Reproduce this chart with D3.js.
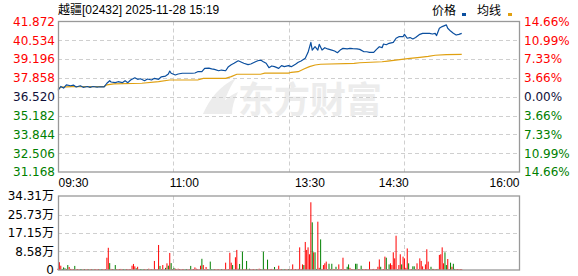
<!DOCTYPE html>
<html>
<head>
<meta charset="utf-8">
<script src="https://cdn.jsdelivr.net/npm/d3@7"></script>
<style>
  html, body { margin: 0; padding: 0; background: #fff; }
  svg { display: block; }
</style>
</head>
<body>
<div id="chart"></div>
<script>
// ---- data ----
const stockTitle = '越疆[02432] 2025-11-28 15:19';
const legendNames = ['价格', '均线'];
const prevClose = 36.52;

const priceTicks = [41.872, 40.534, 39.196, 37.858, 36.520, 35.182, 33.844, 32.506, 31.168];
const pctLabels = ['14.66%', '10.99%', '7.33%', '3.66%', '0.00%', '3.66%', '7.33%', '10.99%', '14.66%'];

const timeLabels = ['09:30', '11:00', '13:30', '14:30', '16:00'];
const timeMinutes = [0, 90, 180, 240, 330];
const gridMinutes = [82.5, 165, 247.5];

const volTicks = [34.31, 25.73, 17.15, 8.58, 0];
const volLabels = ['34.31万', '25.73万', '17.15万', '8.58万', '0'];

// minutes since 09:30 (lunch break removed)
const priceMinutes = [0, 2, 4, 6, 9, 11, 13, 16, 18, 21, 23, 25, 28, 30, 33, 35, 37, 38, 41, 43,
    46, 48, 50, 52, 55, 57, 59, 62, 64, 67, 69, 72, 74, 77, 79, 80, 81, 84, 86, 89,
    92, 96, 98, 100, 103, 105, 108, 110, 112, 115, 117, 120, 122, 124, 126, 129, 131, 133, 136, 138,
    141, 143, 145, 147, 149, 151, 153, 155, 158, 160, 162, 165, 167, 170, 172, 174, 177, 179, 181, 182,
    184, 186, 187, 189, 191, 193, 196, 198, 200, 202, 204, 207, 209, 211, 214, 216, 219, 221, 223, 226,
    228, 230, 232, 233, 235, 237, 240, 242, 244, 247, 248, 250, 252, 254, 256, 259, 261, 263, 266, 268,
    270, 271, 273, 275, 278, 279, 281, 283, 285, 287, 289];
const prices = [36.97, 37.25, 37.14, 37.37, 37.30, 37.35, 37.21, 37.30, 37.19, 37.25, 37.19, 37.25, 37.21, 37.23, 37.22, 37.48, 37.66, 37.57, 37.52, 37.59,
    37.52, 37.66, 37.52, 37.71, 37.87, 37.76, 37.80, 37.66, 37.78, 37.71, 37.83, 37.76, 37.94, 37.99, 38.14, 38.35, 38.19, 38.07, 38.14, 38.19,
    38.19, 38.19, 38.21, 38.30, 38.30, 38.54, 38.56, 38.50, 38.47, 38.37, 38.42, 38.37, 38.66, 38.80, 38.90, 39.08, 38.99, 38.90, 38.80, 38.85,
    38.99, 39.08, 39.13, 39.01, 38.90, 38.59, 38.71, 38.66, 38.54, 38.73, 38.66, 38.73, 38.66, 38.83, 38.97, 39.06, 39.25, 39.68, 40.39, 39.84,
    40.08, 39.84, 40.25, 39.84, 40.01, 39.92, 39.84, 39.77, 39.65, 39.84, 39.96, 39.92, 39.96, 39.94, 39.92, 39.89, 39.72, 39.72, 39.68, 39.68,
    39.89, 40.08, 40.01, 40.27, 40.22, 40.32, 40.39, 40.68, 40.79, 40.79, 40.96, 40.68, 40.73, 40.63, 40.73, 40.96, 41.03, 41.03, 41.03, 40.98,
    41.03, 40.87, 41.39, 41.51, 41.63, 41.39, 41.19, 41.03, 40.91, 40.96, 41.03];

const avgMinutes = [0, 2, 10, 33, 35, 40, 60, 72, 80, 100, 104, 120, 124, 128, 145, 148, 165, 167, 172, 176,
    180, 184, 188, 212, 216, 232, 236, 246, 252, 259, 265, 270, 278, 289];
const avgPrices = [37.05, 37.20, 37.24, 37.24, 37.37, 37.43, 37.48, 37.59, 37.71, 37.71, 37.83, 37.83, 37.95, 38.12, 38.12, 38.20, 38.20, 38.26, 38.30, 38.49,
    38.66, 38.78, 38.83, 38.90, 38.94, 39.01, 39.06, 39.18, 39.25, 39.32, 39.39, 39.47, 39.51, 39.54];

// volume per minute (万), one entry per minute from 09:30
const volumes = [
    0.6, 3.6, 2.0, 0.5, 1.2, 0.8, 0.5, 2.3, 1.4, 0.5,
    0.5, 0.4, 1.9, 0.4, 0.4, 0.4, 0.4, 0.4, 0.4, 0.4,
    0.4, 0.4, 0.4, 0.4, 0.4, 0.4, 0.4, 0.4, 0.4, 0.4,
    0.4, 0.4, 0.4, 0.4, 0.4, 5.7, 10.3, 3.2, 0.5, 0.4,
    0.4, 2.3, 0.4, 0.4, 0.4, 0.5, 0.4, 0.4, 0.4, 0.4,
    0.4, 0.4, 0.4, 2.0, 2.8, 1.7, 0.8, 1.5, 0.4, 0.4,
    0.4, 0.4, 0.4, 0.4, 0.4, 0.6, 0.4, 0.4, 0.4, 4.2,
    0.4, 0.4, 11.6, 1.9, 0.4, 2.3, 0.4, 1.0, 3.1, 2.0,
    7.9, 3.2, 0.4, 1.0, 0.6, 0.4, 0.6, 0.4, 0.4, 0.4,
    0.4, 0.4, 0.4, 0.4, 0.4, 1.9, 0.4, 0.4, 1.2, 0.6,
    0.4, 0.4, 2.0, 5.2, 2.3, 0.4, 1.4, 0.4, 0.4, 3.9,
    0.4, 0.4, 0.4, 0.4, 0.4, 0.4, 0.4, 0.4, 0.4, 0.4,
    3.4, 0.4, 0.4, 8.0, 3.4, 2.3, 0.4, 5.9, 9.3, 0.6,
    2.8, 0.4, 8.5, 0.4, 0.5, 4.2, 0.4, 0.6, 0.4, 0.4,
    0.4, 0.4, 0.4, 0.4, 0.6, 0.4, 0.4, 8.5, 0.5, 0.4,
    4.8, 0.4, 0.4, 0.5, 0.4, 1.4, 0.4, 0.4, 2.0, 0.4,
    0.4, 0.4, 0.4, 0.4, 0.4, 0.4, 0.4, 0.4, 2.6, 0.4,
    0.4, 0.4, 0.5, 10.5, 0.5, 2.6, 2.3, 13.0, 9.3, 10.5,
    7.3, 31.4, 22.1, 8.2, 8.2, 0.5, 22.4, 1.0, 14.2, 0.5,
    2.3, 3.1, 3.9, 0.4, 2.9, 0.5, 2.9, 0.5, 0.4, 1.5,
    0.4, 2.6, 0.4, 0.4, 5.7, 0.4, 0.4, 1.5, 2.6, 1.0,
    0.4, 0.4, 0.4, 2.9, 2.9, 0.4, 0.4, 2.0, 0.4, 0.4,
    0.4, 0.4, 0.4, 3.9, 0.4, 0.4, 0.5, 0.4, 0.4, 1.5,
    4.9, 1.5, 0.4, 0.4, 6.2, 5.7, 0.4, 2.6, 3.1, 2.3,
    8.2, 5.4, 15.9, 0.4, 2.3, 7.3, 2.6, 6.2, 5.4, 1.0,
    10.0, 3.1, 0.4, 0.4, 1.7, 1.7, 0.4, 3.1, 0.4, 5.4,
    4.2, 1.7, 0.4, 2.6, 9.6, 3.9, 0.4, 1.5, 0.5, 0.5,
    0.4, 0.4, 0.5, 7.0, 7.3, 10.5, 3.1, 8.2, 2.3, 5.1,
    0.4, 3.4, 1.5, 2.9, 0.5, 0.4, 0.4, 0.4, 0.4, 0.4
];
// r = up minute, g = down minute
const volSides = 'rrrgggrgrr' + 'rrgrrrggrg' + 'rrgrrgrrrr' + 'ggrrrrrgrr' + 'ggrrrrrggr' +
    'rrrrrrgrrg' + 'ggrrgrrrgr' + 'rrrgrrrgrg' + 'rgrgrrrrrr' + 'rggrrgrrrr' +
    'rrrgrrrrgg' + 'ggrrrrrgrr' + 'rrrrrgrrrr' + 'grgrrgrgrr' + 'rrgrrrggrr' +
    'grrrrgrrrr' + 'rggrrgrrrr' + 'rrrrrrgrrr' + 'rrgrggrrgr' + 'rrrrgrgrrg' +
    'rrrrrrrggr' + 'rrrggrrgrr' + 'rrrrrrrrrr' + 'rgrrrgrgrr' + 'rrrrrrgrrr' +
    'rgrrggrrrr' + 'rrrrrrrgrg' + 'rrgrrrrggr' + 'rgrggrrrrr';

// ---- chart ----
const W = 578, H = 276;
const left = 58, right = 519;
const mainTop = 21.5, mainBottom = 172;
const volTop = 196, volBottom = 270;

const svg = d3.select('#chart')
    .append('svg')
    .attr('width', W)
    .attr('height', H)
    .style('font-family', '"DejaVu Sans", sans-serif');

svg.append('rect').attr('width', W).attr('height', H).attr('fill', '#fff');

const x = d3.scaleLinear().domain([0, 330]).range([left, right]);
const y = d3.scaleLinear().domain([31.168, 41.872]).range([mainBottom, mainTop]);
const yVol = d3.scaleLinear().domain([0, 34.31]).range([volBottom, volTop]);

const gridColor = '#cfcfcf';
const frameColor = '#999';
const upColor = '#ff0000';
const downColor = '#008000';

// watermark
const wm = svg.append('g').attr('fill', '#ececec');
wm.append('path')
    .attr('d', 'M203,114 C210,98 220,86 236,78 C228,90 224,100 222,114 Z M214,114 C220,104 228,96 238,92 C234,100 232,107 232,114 Z');
wm.append('text')
    .attr('x', 238)
    .attr('y', 113)
    .style('font-family', '"Noto Sans CJK SC", sans-serif')
    .style('font-size', '36px')
    .style('font-weight', 'bold')
    .text('东方财富');

// grid: main
const grid = svg.append('g')
    .attr('stroke', gridColor)
    .attr('stroke-dasharray', '4,3')
    .attr('stroke-width', 1);

grid.selectAll('.hgrid')
    .data(priceTicks.slice(1, -1))
    .enter()
    .append('line')
    .attr('x1', left).attr('x2', right)
    .attr('y1', d => Math.round(y(d)) + 0.5)
    .attr('y2', d => Math.round(y(d)) + 0.5);

grid.selectAll('.vgrid')
    .data(gridMinutes)
    .enter()
    .append('line')
    .attr('y1', mainTop).attr('y2', mainBottom)
    .attr('x1', d => Math.round(x(d)) + 0.5)
    .attr('x2', d => Math.round(x(d)) + 0.5);

// grid: volume
grid.selectAll('.hvgrid')
    .data(volTicks.slice(1, -1))
    .enter()
    .append('line')
    .attr('x1', left).attr('x2', right)
    .attr('y1', d => Math.round(yVol(d)) + 0.5)
    .attr('y2', d => Math.round(yVol(d)) + 0.5);

grid.selectAll('.vvgrid')
    .data(gridMinutes)
    .enter()
    .append('line')
    .attr('y1', volTop).attr('y2', volBottom)
    .attr('x1', d => Math.round(x(d)) + 0.5)
    .attr('x2', d => Math.round(x(d)) + 0.5);

// volume bars
svg.append('g')
    .selectAll('rect')
    .data(volumes)
    .enter()
    .append('rect')
    .attr('x', (d, i) => x(i) - 0.5)
    .attr('width', 1)
    .attr('y', d => yVol(d))
    .attr('height', d => yVol(0) - yVol(d))
    .attr('fill', (d, i) => volSides[i] === 'r' ? upColor : downColor);

// lines
const avgLine = d3.line()
    .x((d, i) => x(avgMinutes[i]))
    .y(d => y(d));
svg.append('path')
    .datum(avgPrices)
    .attr('fill', 'none')
    .attr('stroke', '#e0a010')
    .attr('stroke-width', 1.2)
    .attr('d', avgLine);

const priceLine = d3.line()
    .x((d, i) => x(priceMinutes[i]))
    .y(d => y(d));
svg.append('path')
    .datum(prices)
    .attr('fill', 'none')
    .attr('stroke', '#0b4f9f')
    .attr('stroke-width', 1.2)
    .attr('stroke-linejoin', 'round')
    .attr('d', priceLine);

// frames
svg.append('rect')
    .attr('x', left + 0.5).attr('y', mainTop)
    .attr('width', right - left).attr('height', mainBottom - mainTop)
    .attr('fill', 'none').attr('stroke', frameColor).attr('stroke-width', 1.3);
svg.append('rect')
    .attr('x', left + 0.5).attr('y', volTop)
    .attr('width', right - left).attr('height', volBottom - volTop)
    .attr('fill', 'none').attr('stroke', frameColor).attr('stroke-width', 1.3);

function labelColor(v) {
    if (Math.abs(v - prevClose) < 0.001) return '#10103a';
    return v > prevClose ? upColor : downColor;
}

// left price axis
const yAxisLeft = d3.axisLeft(y)
    .tickValues(priceTicks)
    .tickSize(0)
    .tickPadding(3)
    .tickFormat(d3.format('.3f'));
svg.append('g')
    .attr('transform', `translate(${left}, 0)`)
    .call(yAxisLeft)
    .call(g => g.select('.domain').remove())
    .selectAll('text')
    .style('font-family', '"DejaVu Sans", sans-serif')
    .style('font-size', '12px')
    .attr('fill', d => labelColor(d));

// right percent axis
const yAxisRight = d3.axisRight(y)
    .tickValues(priceTicks)
    .tickSize(0)
    .tickPadding(5)
    .tickFormat((d, i) => pctLabels[i]);
svg.append('g')
    .attr('transform', `translate(${right}, 0)`)
    .call(yAxisRight)
    .call(g => g.select('.domain').remove())
    .selectAll('text')
    .style('font-family', '"DejaVu Sans", sans-serif')
    .style('font-size', '12px')
    .attr('fill', d => labelColor(d));

// time axis
const xAxis = d3.axisBottom(x)
    .tickValues(timeMinutes)
    .tickSize(0)
    .tickPadding(6)
    .tickFormat((d, i) => timeLabels[i]);
svg.append('g')
    .attr('transform', `translate(0, ${mainBottom})`)
    .call(xAxis)
    .call(g => g.select('.domain').remove())
    .selectAll('text')
    .style('font-family', '"Liberation Sans", sans-serif')
    .style('font-size', '12px')
    .attr('fill', '#000')
    .attr('text-anchor', (d, i) => i === 0 ? 'start' : (i === timeMinutes.length - 1 ? 'end' : 'middle'));

// volume axis
const volAxis = d3.axisLeft(yVol)
    .tickValues(volTicks)
    .tickSize(0)
    .tickPadding(4)
    .tickFormat((d, i) => volLabels[i]);
svg.append('g')
    .attr('transform', `translate(${left}, 0)`)
    .call(volAxis)
    .call(g => g.select('.domain').remove())
    .selectAll('text')
    .style('font-family', '"DejaVu Sans", "Noto Sans CJK SC", sans-serif')
    .style('font-size', '12px')
    .attr('fill', '#000');

// title
svg.append('text')
    .attr('x', left)
    .attr('y', 14)
    .style('font-family', '"Liberation Sans", "Noto Sans CJK SC", sans-serif')
    .style('font-size', '12px')
    .attr('fill', '#000')
    .text(stockTitle);

// legend
const legend = svg.append('g')
    .style('font-family', '"Noto Sans CJK SC", sans-serif')
    .style('font-size', '12px');
legend.append('text').attr('x', 432).attr('y', 15).text(legendNames[0]);
legend.append('rect').attr('x', 462).attr('y', 13).attr('width', 4).attr('height', 3).attr('fill', '#0b4f9f');
legend.append('text').attr('x', 477).attr('y', 15).text(legendNames[1]);
legend.append('rect').attr('x', 508).attr('y', 13).attr('width', 4).attr('height', 3).attr('fill', '#e0a010');
</script>
</body>
</html>
